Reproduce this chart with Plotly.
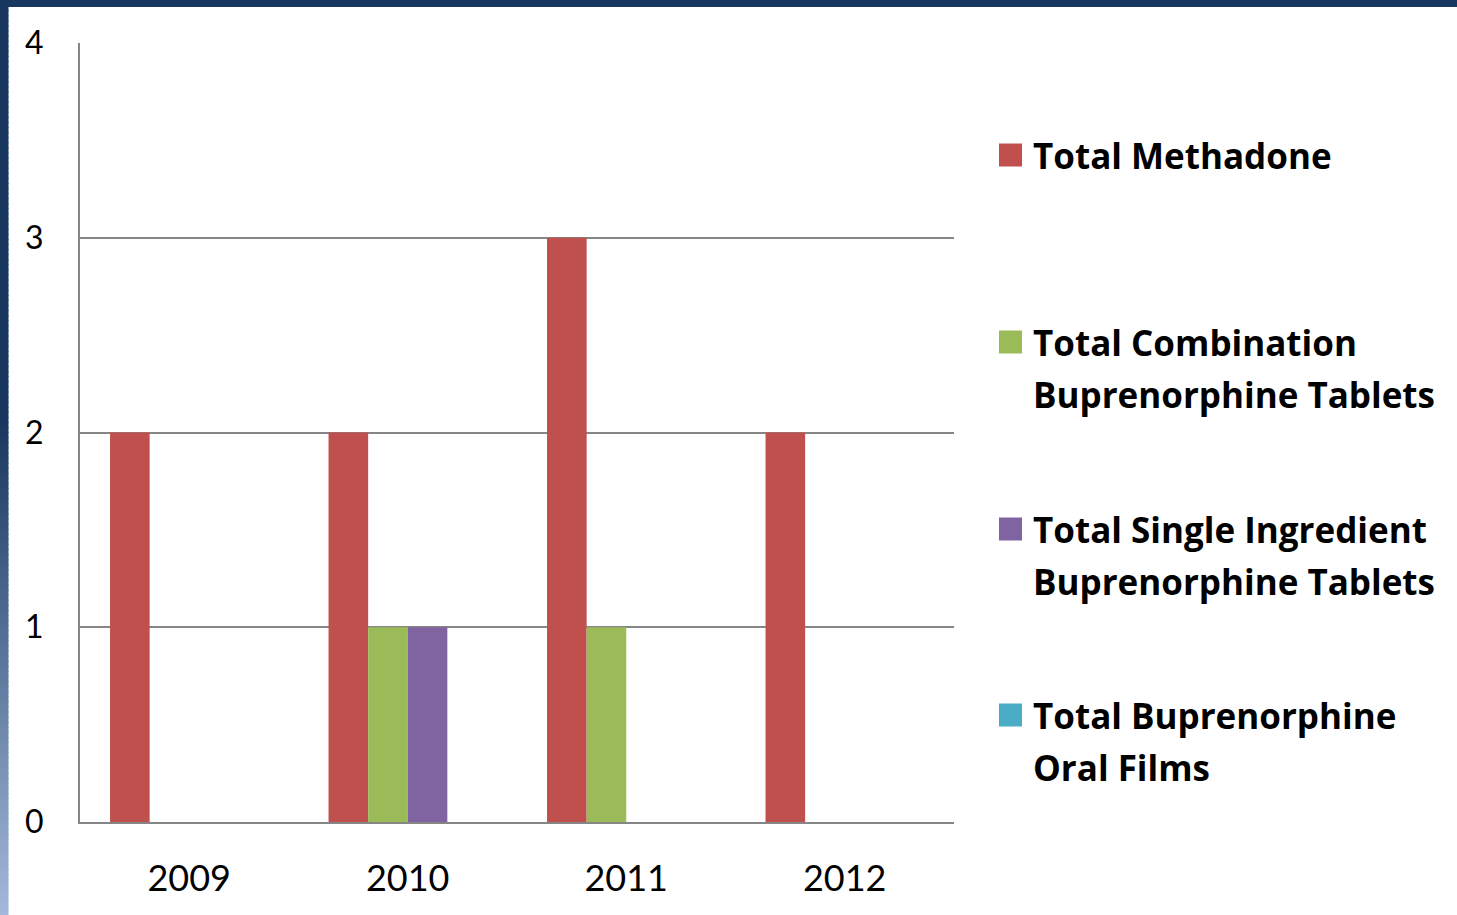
import plotly.graph_objects as go

years = ["2009", "2010", "2011", "2012"]
series_names = [
    "Total Methadone",
    "Total Combination\nBuprenorphine Tablets",
    "Total Single Ingredient\nBuprenorphine Tablets",
    "Total Buprenorphine\nOral Films",
]
methadone = [2, 2, 3, 2]
combination_tabs = [0, 1, 1, 0]
single_tabs = [0, 1, 0, 0]
oral_films = [0, 0, 0, 0]
series_values = [methadone, combination_tabs, single_tabs, oral_films]
colors = ["#C0504D", "#9BBB59", "#8064A2", "#4BACC6"]
y_ticks = [0, 1, 2, 3, 4]

W, H = 1457, 915
PL, PR, PT, PB = 80, 954, 43, 822
PW, PH = PR - PL, PB - PT
FONT = "Lato"
LEG_FONT = "Open Sans"


def px_x(x):
    return (x - PL) / PW


def px_y(y):
    return 1 - (y - PT) / PH


fig = go.Figure()
for name, vals, col in zip(series_names, series_values, colors):
    fig.add_trace(go.Bar(x=years, y=vals, name=name.replace("\n", " "),
                         marker=dict(color=col, line=dict(width=0)),
                         showlegend=False))

shapes = []
# left gradient bar
top_c = (0x17, 0x37, 0x5E)
bot_c = (0xA3, 0xB9, 0xDA)
n = 180
for i in range(n):
    y_top = H * i / n
    y_bot = H * (i + 1) / n
    ym = (y_top + y_bot) / 2
    t = 0 if ym < 420 else (ym - 420) / (H - 420)
    c = tuple(int(round(top_c[k] + (bot_c[k] - top_c[k]) * t)) for k in range(3))
    shapes.append(dict(type="rect", xref="paper", yref="paper",
                       x0=px_x(-2), x1=px_x(8.5),
                       y0=px_y(y_bot + 1), y1=px_y(y_top),
                       fillcolor="rgb(%d,%d,%d)" % c, line=dict(width=0), layer="above"))
# top navy bar
shapes.append(dict(type="rect", xref="paper", yref="paper",
                   x0=px_x(-2), x1=px_x(W + 2), y0=px_y(7), y1=px_y(-2),
                   fillcolor="#17375E", line=dict(width=0), layer="above"))

# legend drawn as squares + text
annotations = []
first_line_y = [155, 342, 529, 715]
line_gap = 52
for name, col, yc in zip(series_names, colors, first_line_y):
    shapes.append(dict(type="rect", xref="paper", yref="paper",
                       x0=px_x(999), x1=px_x(1022),
                       y0=px_y(yc + 11.5), y1=px_y(yc - 11.5),
                       fillcolor=col, line=dict(width=0)))
    for k, line in enumerate(name.split("\n")):
        yy = yc + k * line_gap
        annotations.append(dict(text="<b>%s</b>" % line, xref="paper", yref="paper",
                                x=px_x(1031), y=px_y(yy),
                                xanchor="left", yanchor="middle", showarrow=False,
                                font=dict(family=LEG_FONT, size=35, color="#000000")))

fig.update_layout(
    width=W, height=H,
    margin=dict(l=PL, r=W - PR, t=PT, b=H - PB),
    paper_bgcolor="#FFFFFF", plot_bgcolor="#FFFFFF",
    barmode="group", bargap=0.275, bargroupgap=0,
    font=dict(family=FONT, color="#000000"),
    shapes=shapes, annotations=annotations,
    showlegend=False,
    xaxis=dict(type="category", showline=True, linecolor="#868686", linewidth=2,
               showgrid=False, ticks="", tickfont=dict(size=36, family=FONT),
               ticklabelstandoff=24),
    yaxis=dict(range=[0, 4], tickvals=y_ticks, showline=True, linecolor="#868686",
               linewidth=2, showgrid=True, gridcolor="#868686", gridwidth=2,
               zeroline=False, ticks="", tickfont=dict(size=32, family=FONT),
               ticklabelstandoff=28),
)

fig.write_html("out.html",
               config={"displayModeBar": False},
               post_script="document.body.style.margin='0';document.body.style.overflow='hidden';")
